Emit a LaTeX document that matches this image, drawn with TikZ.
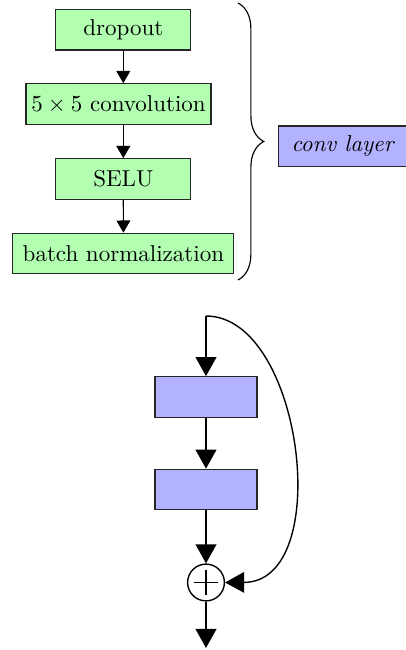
\documentclass[tikz,border=0pt]{standalone}
\usetikzlibrary{arrows.meta,decorations.pathreplacing}
\begin{document}
\begin{tikzpicture}[x=0.43478pt,y=-0.43478pt,
  gbox/.style={draw=black!85,fill=green!30,line width=0.5pt,minimum height=17.6pt,inner sep=0pt},
  bbox/.style={draw=black!85,fill=blue!30,line width=0.5pt,minimum height=17.6pt,inner sep=0pt},
  sarrow/.style={line width=0.5pt,-{Triangle[length=5.3pt,width=6pt]}},
  barrow/.style={line width=0.85pt,-{Triangle[length=8.3pt,width=9pt]}},
  sumnode/.style={draw,circle,line width=0.6pt,minimum size=16pt,inner sep=0pt}]
\useasboundingbox (0,0) rectangle (406,650);
% top part
\node[gbox,minimum width=58.7pt] (drop) at (123.3,29.7) {dropout};
\node[gbox,minimum width=80.4pt] (conv) at (118.5,104) {$5\times5$ convolution};
\node[gbox,minimum width=58.7pt] (selu) at (123.3,179) {SELU};
\node[gbox,minimum width=96.1pt] (bn) at (123.4,253.5) {batch normalization};
\draw[sarrow] (drop.south) -- (drop.south |- conv.north);
\draw[sarrow] (drop.south |- conv.south) -- (selu.north);
\draw[sarrow] (selu.south) -- (bn.north);
\coordinate (bt) at (238,3);
\coordinate (bb) at (238,280);
\draw[line width=0.5pt,decorate,decoration={brace,amplitude=11.2pt}] (bt) -- (bb);
\node[bbox,minimum width=55.6pt,font=\itshape] (cl) at (342.5,146.3) {conv layer};
% bottom part
\coordinate (in) at (206,316);
\node[bbox,minimum width=44.3pt] (b1) at (206,397) {};
\node[bbox,minimum width=44.3pt] (b2) at (206,489.5) {};
\node[sumnode] (sum) at (206,582.5) {};
\draw[line width=0.6pt] ([xshift=-5.4pt]sum.center) -- ([xshift=5.4pt]sum.center)
  ([yshift=-5.4pt]sum.center) -- ([yshift=5.4pt]sum.center);
\coordinate (out) at (206,648);
\draw[barrow] (in) -- (b1.north);
\draw[barrow] (b1.south) -- (b2.north);
\draw[barrow] (b2.south) -- (sum.north);
\draw[barrow] (sum.south) -- (out);
\draw[line width=0.6pt,-{Triangle[length=8.3pt,width=9pt]}] (in) .. controls (303,316) and (335,582) .. (sum.east);
\end{tikzpicture}
\end{document}
